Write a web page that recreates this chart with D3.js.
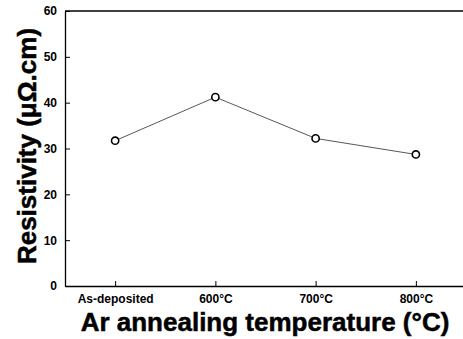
<!DOCTYPE html>
<html>
<head>
<meta charset="utf-8">
<script src="https://cdn.jsdelivr.net/npm/d3@7"></script>
<style>
  body { margin: 0; background: #fff; }
  svg { display: block; font-family: "Liberation Sans", Arial, sans-serif; }
</style>
</head>
<body>
<div id="chart"></div>
<script>
var categories = ['As-deposited', '600°C', '700°C', '800°C'];
var resistivity = [31.7, 41.2, 32.2, 28.7];
var yTicks = [0, 10, 20, 30, 40, 50, 60];

var width = 463, height = 339;
var margin = {top: 11, right: -3, bottom: 53, left: 65};

var svg = d3.select('#chart')
    .append('svg')
    .attr('width', width)
    .attr('height', height);

var x = d3.scalePoint()
    .domain(categories)
    .range([margin.left, width - margin.right])
    .padding(0.5);

var y = d3.scaleLinear()
    .domain([0, 60])
    .range([height - margin.bottom, margin.top]);

//frame: top line across the plot
svg.append('line')
    .attr('x1', margin.left)
    .attr('x2', width)
    .attr('y1', y(60))
    .attr('y2', y(60))
    .attr('stroke', '#000')
    .attr('stroke-width', 1.3);

//x axis, ticks pointing inward
var xAxis = svg.append('g')
    .attr('transform', 'translate(0,' + y(0) + ')')
    .call(d3.axisBottom(x).tickSize(-5).tickSizeOuter(0).tickPadding(8));
xAxis.select('.domain').attr('stroke-width', 1.3);
xAxis.selectAll('text')
    .attr('fill', '#000')
    .style('font-size', '12px')
    .style('font-weight', 'bold');

//y axis
var yAxis = svg.append('g')
    .attr('transform', 'translate(' + margin.left + ',0)')
    .call(d3.axisLeft(y).tickValues(yTicks).tickSize(-5).tickSizeOuter(0).tickPadding(8));
yAxis.select('.domain').attr('stroke-width', 1.3);
yAxis.selectAll('text')
    .attr('fill', '#000')
    .style('font-size', '12px')
    .style('font-weight', 'bold');

//line + open circles
var line = d3.line()
    .x(function(d, i) { return x(categories[i]); })
    .y(function(d) { return y(d); });

svg.append('path')
    .datum(resistivity)
    .attr('d', line)
    .attr('fill', 'none')
    .attr('stroke', '#444')
    .attr('stroke-width', 0.9);

svg.selectAll('.pt')
    .data(resistivity)
    .join('circle')
    .attr('class', 'pt')
    .attr('cx', function(d, i) { return x(categories[i]); })
    .attr('cy', function(d) { return y(d); })
    .attr('r', 3.6)
    .attr('fill', '#fff')
    .attr('stroke', '#000')
    .attr('stroke-width', 1.6);

//axis titles
svg.append('text')
    .attr('x', 265)
    .attr('y', 331)
    .attr('text-anchor', 'middle')
    .attr('stroke', '#000')
    .attr('stroke-width', 0.5)
    .style('font-size', '26px')
    .style('font-weight', 'bold')
    .text('Ar annealing temperature (°C)');

svg.append('text')
    .attr('transform', 'translate(36,146) rotate(-90)')
    .attr('text-anchor', 'middle')
    .attr('stroke', '#000')
    .attr('stroke-width', 0.5)
    .style('font-size', '26px')
    .style('font-weight', 'bold')
    .text('Resistivity (μΩ.cm)');
</script>
</body>
</html>
